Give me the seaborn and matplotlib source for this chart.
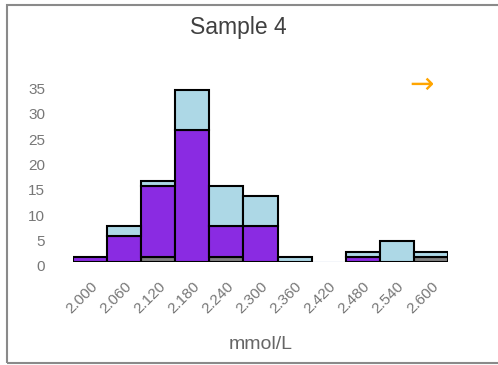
import numpy as np
import pandas as pd
import seaborn as sns
import matplotlib
matplotlib.use("Agg")
import matplotlib.pyplot as plt
import matplotlib.transforms as mtransforms
from matplotlib.patches import Rectangle

# Bin centres (mmol/L) and counts for each stacked layer
bin_centers = [2.000, 2.060, 2.120, 2.180, 2.240, 2.300, 2.360, 2.420, 2.480, 2.540, 2.600]
tick_labels = ["2.000", "2.060", "2.120", "2.180", "2.240", "2.300",
               "2.360", "2.420", "2.480", "2.540", "2.600"]
gray_counts = [0, 0, 1, 0, 1, 0, 0, 0, 0, 0, 1]
purple_counts = [1, 5, 14, 26, 6, 7, 0, 0, 1, 0, 0]
blue_counts = [0, 2, 1, 8, 8, 6, 1, 0, 1, 4, 1]
y_ticks = [0, 5, 10, 15, 20, 25, 30, 35]

groups = {"gray": gray_counts, "purple": purple_counts, "blue": blue_counts}
colors = {"gray": "#808080", "purple": "#8a2be2", "blue": "#add8e6"}

rows = []
for name, counts in groups.items():
    for c, n in zip(bin_centers, counts):
        rows.append({"value": c, "count": n, "group": name})
df = pd.DataFrame(rows)

width = 0.06
edges = [round(bin_centers[0] - width / 2 + i * width, 4) for i in range(len(bin_centers) + 1)]

sns.set_theme(style="white")
plt.rcParams["font.family"] = ["Liberation Sans", "DejaVu Sans"]

fig = plt.figure(figsize=(4.98, 3.65), dpi=100)
ax = fig.add_axes([0.1466, 0.283, 0.753, 0.4855])

sns.histplot(data=df, x="value", weights="count", hue="group",
             hue_order=["blue", "purple", "gray"], palette=colors,
             multiple="stack", bins=edges, alpha=1, edgecolor="black",
             linewidth=1.5, legend=False, ax=ax)

# hide empty segments so they do not leave outlines on the baseline
for p in ax.patches:
    if p.get_height() == 0:
        p.set_visible(False)

ax.axhline(0, color="#c9d5ea", lw=1.0, zorder=0)

ax.set_xlim(edges[0], edges[-1])
ax.set_ylim(0, 35)
ax.set_xticks(bin_centers)
ax.set_xticklabels(tick_labels, rotation=45, ha="right", rotation_mode="anchor",
                   fontsize=11, color="#777777")
ax.set_yticks(y_ticks)
ax.set_yticklabels([str(t) for t in y_ticks], fontsize=11, color="#777777")
ax.tick_params(axis="x", length=0, pad=13)
ax.tick_params(axis="y", length=0, pad=20)

# y labels sit a little below their gridline positions
shift = mtransforms.ScaledTranslation(0, -4 / 100, fig.dpi_scale_trans)
for lbl in ax.get_yticklabels():
    lbl.set_transform(lbl.get_transform() + shift)

for s in ax.spines.values():
    s.set_visible(False)
ax.set_ylabel("")
ax.set_xlabel("mmol/L", fontsize=14, color="#666666", labelpad=14)

fig.text(0.478, 0.924, "Sample 4", ha="center", va="center", fontsize=16.5, color="#404040")
fig.text(0.846, 0.768, "\u2192", ha="center", va="center", fontsize=21, color="#ffa500",
         family=["DejaVu Sans"])

fig.patches.append(Rectangle((0.014, 0.006), 1.0, 0.98, transform=fig.transFigure,
                             fill=False, edgecolor="#8a8a8a", lw=1.5))

fig.savefig("out.png", dpi=100)
